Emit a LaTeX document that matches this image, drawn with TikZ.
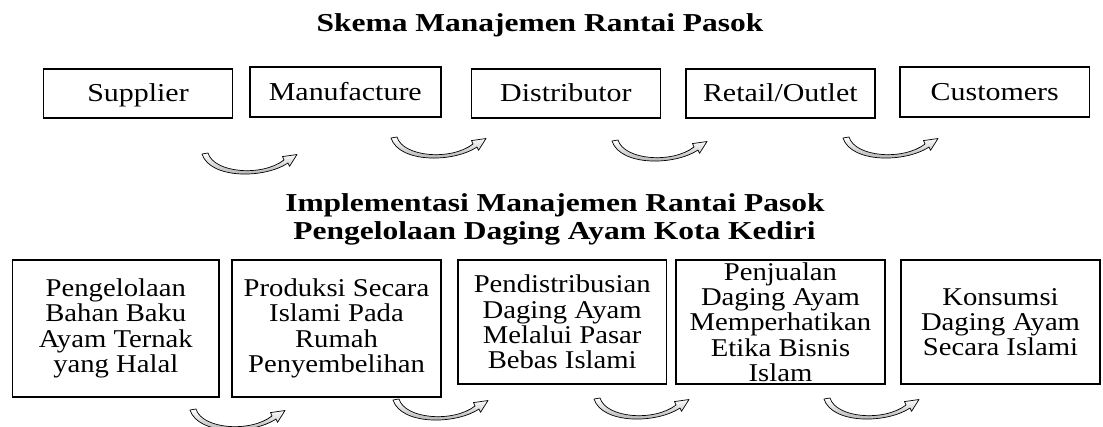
\documentclass[tikz,border=0pt]{standalone}
\usepackage{fontspec}
\setmainfont{Liberation Serif}
\newfontfamily\titlefont{Liberation Serif}[FakeStretch=1.22]
\newfontfamily\topfont{Liberation Serif}[FakeStretch=1.16]
\newfontfamily\botfont{Liberation Serif}[FakeStretch=1.12]
\tikzset{
  curvearrow/.pic={
    \path[draw=black, line width=0.7pt, line join=round, top color=white, bottom color=gray!70]
      (0,0) -- (6,-1)
      .. controls (12,19) and (60,23) .. (82,6)
      -- (80.5,2.6) -- (95,0.5) -- (87.5,12.4) -- (86,9)
      .. controls (62,25) and (8,25) .. (0,0) -- cycle;
  }
}
\begin{document}
\begin{tikzpicture}[x=1pt,y=-1pt,
  topbox/.style={draw, line width=1.8pt, inner sep=0pt,
    font=\topfont\fontsize{25.8}{28}\selectfont, text height=17pt, text depth=0pt},
  botbox/.style={draw, line width=1.8pt, inner sep=0pt, align=center,
    font=\botfont\fontsize{25.6}{25.3}\selectfont},
  titletext/.style={font=\titlefont\bfseries\fontsize{25.8}{28}\selectfont, anchor=base, inner sep=0pt}
]
\useasboundingbox (0,0) rectangle (1103,427);

% titles
\node[titletext] (t1) at (540,31.7) {Skema Manajemen Rantai Pasok};
\node[titletext] (t2) at (555,211.7) {Implementasi Manajemen Rantai Pasok};
\node[titletext] (t3) at (554.5,240) {Pengelolaan Daging Ayam Kota Kediri};

% top row
\node[topbox, minimum width=189pt, minimum height=49pt] (sup) at (138,93.5) {Supplier};
\node[topbox, minimum width=191.4pt, minimum height=50pt] (man) at (345.3,92) {Manufacture};
\node[topbox, minimum width=189pt, minimum height=49pt] (dis) at (565.9,93.5) {Distributor};
\node[topbox, minimum width=188.6pt, minimum height=49pt] (ret) at (780.3,93.5) {Retail/Outlet};
\node[topbox, minimum width=189.4pt, minimum height=50pt] (cus) at (994.7,92) {Customers};

% bottom row
\node[botbox, minimum width=206.5pt, minimum height=137pt] (b1) at (115.8,328.5)
  {Pengelolaan\\Bahan Baku\\Ayam Ternak\\yang Halal};
\node[botbox, minimum width=209pt, minimum height=137pt] (b2) at (336.5,328.5)
  {Produksi Secara\\Islami Pada\\Rumah\\Penyembelihan};
\node[botbox, minimum width=208.4pt, minimum height=124pt] (b3) at (562.2,322)
  {Pendistribusian\\Daging Ayam\\Melalui Pasar\\Bebas Islami};
\node[botbox, minimum width=209.7pt, minimum height=124pt] (b4) at (780.5,322)
  {Penjualan\\Daging Ayam\\Memperhatikan\\Etika Bisnis\\Islam};
\node[botbox, minimum width=199pt, minimum height=124pt] (b5) at (1000.5,322)
  {Konsumsi\\Daging Ayam\\Secara Islami};

% curved arrows
\pic (a1) at (202,154) {curvearrow};
\pic (a2) at (391,138) {curvearrow};
\pic (a3) at (612,141) {curvearrow};
\pic (a4) at (843,138) {curvearrow};
\pic (c1) at (190,410) {curvearrow};
\pic (c2) at (393,400) {curvearrow};
\pic (c3) at (594,399) {curvearrow};
\pic (c4) at (824,399) {curvearrow};
\end{tikzpicture}
\end{document}
